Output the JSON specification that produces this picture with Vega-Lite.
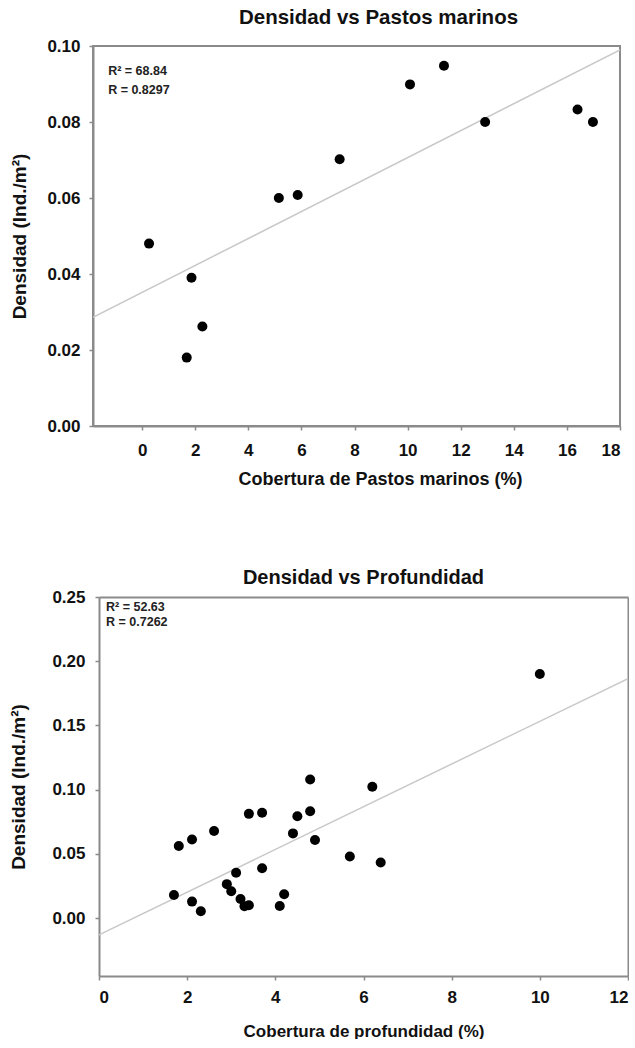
{
  "$schema": "https://vega.github.io/schema/vega-lite/v6.json",
  "padding": {"left": 9, "top": 6, "right": 0, "bottom": 0},
  "spacing": 79,
  "columns": 1,
  "align": "none",
  "config": {
    "font": "Liberation Sans",
    "view": {"stroke": "#8a8a8a", "strokeWidth": 2},
    "axis": {
      "grid": false,
      "domainColor": "#8a8a8a",
      "domainWidth": 2,
      "tickColor": "#8a8a8a",
      "tickWidth": 1.5,
      "tickSize": 4,
      "labelFont": "Liberation Sans",
      "labelFontWeight": "bold",
      "labelFontSize": 17,
      "labelColor": "#111",
      "titleFont": "Liberation Sans",
      "titleFontWeight": "bold",
      "titleFontSize": 18,
      "titleColor": "#111"
    },
    "title": {"font": "Liberation Sans", "fontWeight": "bold", "fontSize": 20.5, "color": "#111"}
  },
  "concat": [
    {
      "title": {"text": "Densidad vs Pastos marinos", "offset": 9, "dx": 22},
      "width": 527,
      "height": 380,
      "layer": [
        {
          "data": {"values": [{"x": -1.85, "y": 0.0286}, {"x": 18, "y": 0.099}]},
          "mark": {"type": "line", "color": "#c8c8c8", "strokeWidth": 1.5, "clip": true},
          "encoding": {
            "x": {"field": "x", "type": "quantitative"},
            "y": {"field": "y", "type": "quantitative"}
          }
        },
        {
          "data": {"values": [
            {"x": 0.26, "y": 0.048},
            {"x": 1.86, "y": 0.039},
            {"x": 2.27, "y": 0.0262},
            {"x": 1.68, "y": 0.018},
            {"x": 5.15, "y": 0.060},
            {"x": 5.86, "y": 0.0608},
            {"x": 7.44, "y": 0.0702},
            {"x": 10.09, "y": 0.0899},
            {"x": 11.37, "y": 0.0948},
            {"x": 12.92, "y": 0.080},
            {"x": 16.4, "y": 0.0833},
            {"x": 16.98, "y": 0.080}
          ]},
          "mark": {"type": "point", "filled": true, "color": "#000", "opacity": 1, "size": 100},
          "encoding": {
            "x": {"field": "x", "type": "quantitative",
              "scale": {"domain": [-1.85, 18], "nice": false, "zero": false},
              "axis": {"values": [0, 2, 4, 6, 8, 10, 12, 14, 16, 18], "title": "Cobertura de Pastos marinos (%)", "labelPadding": 12, "titlePadding": 12, "titleX": 287}},
            "y": {"field": "y", "type": "quantitative",
              "scale": {"domain": [0, 0.1], "nice": false},
              "axis": {"values": [0, 0.02, 0.04, 0.06, 0.08, 0.1], "format": ".2f", "title": "Densidad (Ind./m²)", "titleFontSize": 19, "labelPadding": 9, "titlePadding": 17}}
          }
        },
        {
          "data": {"values": [
            {"x": -1.28, "y": 0.0934, "label": "R² = 68.84"},
            {"x": -1.28, "y": 0.0884, "label": "R = 0.8297"}
          ]},
          "mark": {"type": "text", "align": "left", "baseline": "middle", "fontSize": 12.5, "fontWeight": "bold", "color": "#222"},
          "encoding": {
            "x": {"field": "x", "type": "quantitative"},
            "y": {"field": "y", "type": "quantitative"},
            "text": {"field": "label"}
          }
        }
      ]
    },
    {
      "title": {"text": "Densidad vs Profundidad", "offset": 0, "dx": 3, "fontSize": 20},
      "width": 535,
      "height": 379,
      "view": {"stroke": null},
      "resolve": {"axis": {"x": "independent", "y": "independent"}},
      "layer": [
        {
          "data": {"values": [{"x": 0, "y": -0.013}, {"x": 12, "y": 0.1865}]},
          "mark": {"type": "line", "color": "#c8c8c8", "strokeWidth": 1.5, "clip": true},
          "encoding": {
            "x": {"field": "x", "type": "quantitative",
              "axis": {"orient": "top", "labels": false, "ticks": false, "title": null}},
            "y": {"field": "y", "type": "quantitative",
              "axis": {"orient": "right", "labels": false, "ticks": false, "title": null}}
          }
        },
        {
          "data": {"values": [
            {"x": 1.70, "y": 0.018},
            {"x": 1.81, "y": 0.0562},
            {"x": 2.11, "y": 0.0613},
            {"x": 2.11, "y": 0.0129},
            {"x": 2.31, "y": 0.0054},
            {"x": 2.61, "y": 0.0678},
            {"x": 2.90, "y": 0.0265},
            {"x": 3.00, "y": 0.0209},
            {"x": 3.11, "y": 0.0353},
            {"x": 3.21, "y": 0.0149},
            {"x": 3.30, "y": 0.0093},
            {"x": 3.40, "y": 0.0100},
            {"x": 3.40, "y": 0.0812},
            {"x": 3.70, "y": 0.0820},
            {"x": 3.70, "y": 0.0389},
            {"x": 4.10, "y": 0.0095},
            {"x": 4.20, "y": 0.0186},
            {"x": 4.40, "y": 0.0660},
            {"x": 4.50, "y": 0.0794},
            {"x": 4.79, "y": 0.1080},
            {"x": 4.79, "y": 0.0832},
            {"x": 4.90, "y": 0.0608},
            {"x": 5.69, "y": 0.0480},
            {"x": 6.20, "y": 0.1023},
            {"x": 6.39, "y": 0.0433},
            {"x": 10.0, "y": 0.1900}
          ]},
          "mark": {"type": "point", "filled": true, "color": "#000", "opacity": 1, "size": 100},
          "encoding": {
            "x": {"field": "x", "type": "quantitative",
              "scale": {"domain": [0, 12], "nice": false, "range": [6, 535]},
              "axis": {"orient": "bottom", "values": [0, 2, 4, 6, 8, 10, 12], "title": "Cobertura de profundidad (%)", "titleFontSize": 17, "labelPadding": 9, "titlePadding": 18}},
            "y": {"field": "y", "type": "quantitative",
              "scale": {"domain": [-0.045, 0.25], "nice": false, "zero": false},
              "axis": {"orient": "left", "offset": -6, "values": [0, 0.05, 0.1, 0.15, 0.2, 0.25], "format": ".2f", "title": "Densidad (Ind./m²)", "titleFontSize": 19, "labelPadding": 10, "titlePadding": 23}}
          }
        },
        {
          "data": {"values": [
            {"x": 0.16, "y": 0.2422, "label": "R² = 52.63"},
            {"x": 0.16, "y": 0.2305, "label": "R = 0.7262"}
          ]},
          "mark": {"type": "text", "align": "left", "baseline": "middle", "fontSize": 12.5, "fontWeight": "bold", "color": "#222"},
          "encoding": {
            "x": {"field": "x", "type": "quantitative", "axis": null},
            "y": {"field": "y", "type": "quantitative", "axis": null},
            "text": {"field": "label"}
          }
        }
      ]
    }
  ]
}
